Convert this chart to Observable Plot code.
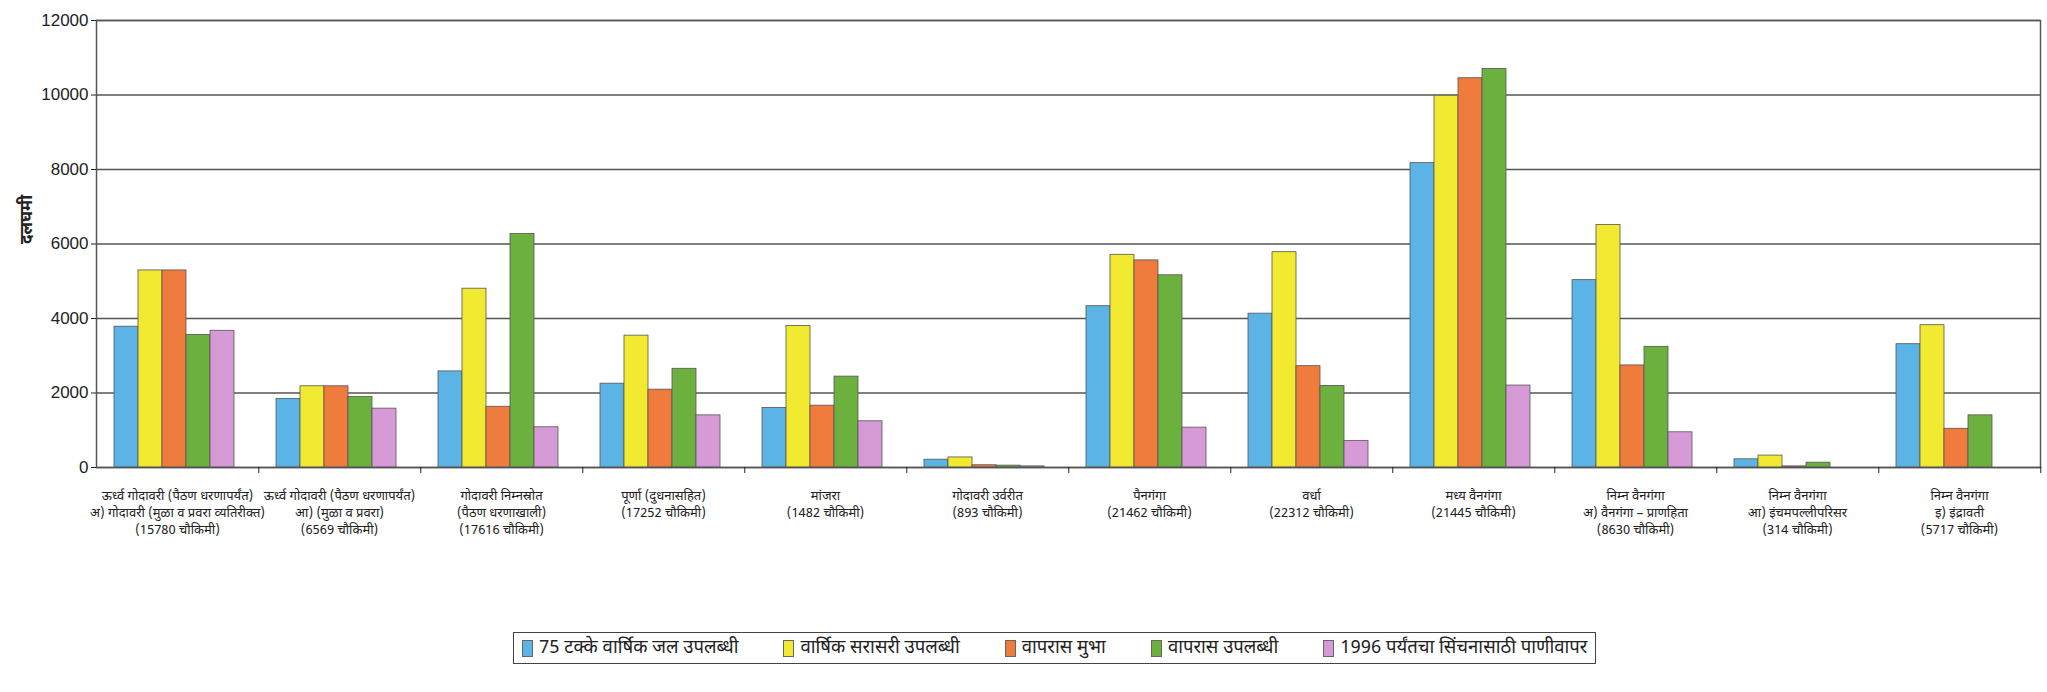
<!DOCTYPE html>
<html>
<head>
<meta charset="utf-8">
<script src="https://cdn.jsdelivr.net/npm/d3@7"></script>
<script src="https://cdn.jsdelivr.net/npm/@observablehq/plot@0.6"></script>
<style>
  body { margin: 0; background: #fff; }
  #chart { width: 2047px; }
  .legend {
    display: inline-flex; align-items: center; gap: 45px;
    margin-top: 75px; margin-left: 513px;
    border: 1.5px solid #444; padding: 4px 8px; height: 22px;
    font-family: "Noto Sans Devanagari", "Lohit Devanagari", "Mukta", "Noto Sans", sans-serif;
    font-size: 18.5px; color: #222;
  }
  .legend .item { display: inline-flex; align-items: center; gap: 6px; white-space: nowrap; }
  .legend .sw { width: 11px; height: 17px; border: 1px solid #666; box-sizing: border-box; }
</style>
</head>
<body>
<div id="chart"></div>
<script>
// ---- data ----
const regions = [
  "ऊर्ध्व गोदावरी (पैठण धरणापर्यंत)\nअ) गोदावरी (मुळा व प्रवरा व्यतिरीक्त)\n(15780 चौकिमी)",
  "ऊर्ध्व गोदावरी (पैठण धरणापर्यंत)\nआ) (मुळा व प्रवरा)\n(6569 चौकिमी)",
  "गोदावरी निम्नस्रोत\n(पैठण धरणाखाली)\n(17616 चौकिमी)",
  "पूर्णा (दुधनासहित)\n(17252 चौकिमी)",
  "मांजरा\n(1482 चौकिमी)",
  "गोदावरी उर्वरीत\n(893 चौकिमी)",
  "पैनगंगा\n(21462 चौकिमी)",
  "वर्धा\n(22312 चौकिमी)",
  "मध्य वैनगंगा\n(21445 चौकिमी)",
  "निम्न वैनगंगा\nअ) वैनगंगा – प्राणहिता\n(8630 चौकिमी)",
  "निम्न वैनगंगा\nआ) इंचमपल्लीपरिसर\n(314 चौकिमी)",
  "निम्न वैनगंगा\nइ) इंद्रावती\n(5717 चौकिमी)"
];
const seriesNames = [
  "75 टक्के वार्षिक जल उपलब्धी",
  "वार्षिक सरासरी उपलब्धी",
  "वापरास मुभा",
  "वापरास उपलब्धी",
  "1996 पर्यंतचा सिंचनासाठी पाणीवापर"
];
const seriesColors = ["#5bb4e5", "#f2ea30", "#ef7b3c", "#6cb13e", "#d69bd6"];
const avail75   = [3780, 1840, 2580, 2250, 1600, 210, 4330, 4130, 8170, 5030, 220, 3310];
const availAvg  = [5290, 2180, 4800, 3540, 3800, 270, 5710, 5780, 9980, 6510, 320, 3820];
const allowed   = [5290, 2180, 1630, 2090, 1660, 60, 5560, 2720, 10450, 2740, 30, 1040];
const availUse  = [3560, 1890, 6270, 2650, 2440, 50, 5160, 2190, 10700, 3240, 130, 1400];
const use1996   = [3670, 1580, 1080, 1400, 1240, 30, 1070, 715, 2200, 945, 0, 0];
const yTicks = [0, 2000, 4000, 6000, 8000, 10000, 12000];
const yLabel = "दलघमी";

const seriesValues = [avail75, availAvg, allowed, availUse, use1996];
const data = regions.flatMap((r, i) =>
  seriesNames.map((s, j) => ({region: r, series: s, value: seriesValues[j][i]})));

// ---- layout ----
const W = 2047, ML = 92, MR = 4, MT = 20, MB = 90, H = 557;
const step = (W - ML - MR) / regions.length;
const DEV = '"Noto Sans Devanagari", "Lohit Devanagari", "Mukta", "Noto Sans", sans-serif';
const NUM = '"Liberation Sans Narrow", "Arial Narrow", "Liberation Sans", sans-serif';

const chart = Plot.plot({
  width: W, height: H,
  marginLeft: ML, marginRight: MR, marginTop: MT, marginBottom: MB,
  style: {fontFamily: DEV, fontSize: "13px", color: "#222", background: "#fff"},
  fx: {domain: regions, padding: 0, label: null},
  x: {domain: seriesNames, paddingInner: 0, paddingOuter: 0.78, align: 0.42, axis: null},
  y: {domain: [0, 12000], label: null},
  color: {domain: seriesNames, range: seriesColors},
  marks: [
    Plot.ruleY(yTicks, {stroke: "#555", strokeWidth: 1.5}),
    Plot.barY(data, {fx: "region", x: "series", y: "value", fill: "series", stroke: "#555", strokeWidth: 0.8}),
    Plot.frame({facet: "super", stroke: "#555", strokeWidth: 1.5}),
    Plot.axisY({ticks: yTicks, tickSize: 5, tickPadding: 3, fontSize: 17, fontFamily: NUM, label: null, tickFormat: d => String(d)}),
    Plot.axisFx({anchor: "bottom", tickSize: 0, tickPadding: 21, label: null, fontSize: 13, lineHeight: 1.28}),
    Plot.axisFx({anchor: "bottom", tickSize: 6, tickFormat: () => "", label: null, dx: step / 2}),
    Plot.text([yLabel], {facet: "super", frameAnchor: "left", dx: -70, rotate: -90, text: d => d, fontWeight: "bold", fontSize: 17})
  ]
});
document.getElementById("chart").appendChild(chart);

// ---- legend ----
const legend = document.createElement("div");
legend.className = "legend";
seriesNames.forEach((name, i) => {
  const item = document.createElement("span");
  item.className = "item";
  const sw = document.createElement("span");
  sw.className = "sw";
  sw.style.background = seriesColors[i];
  const label = document.createElement("span");
  label.textContent = name;
  item.appendChild(sw); item.appendChild(label);
  legend.appendChild(item);
});
document.body.appendChild(legend);
</script>
</body>
</html>
